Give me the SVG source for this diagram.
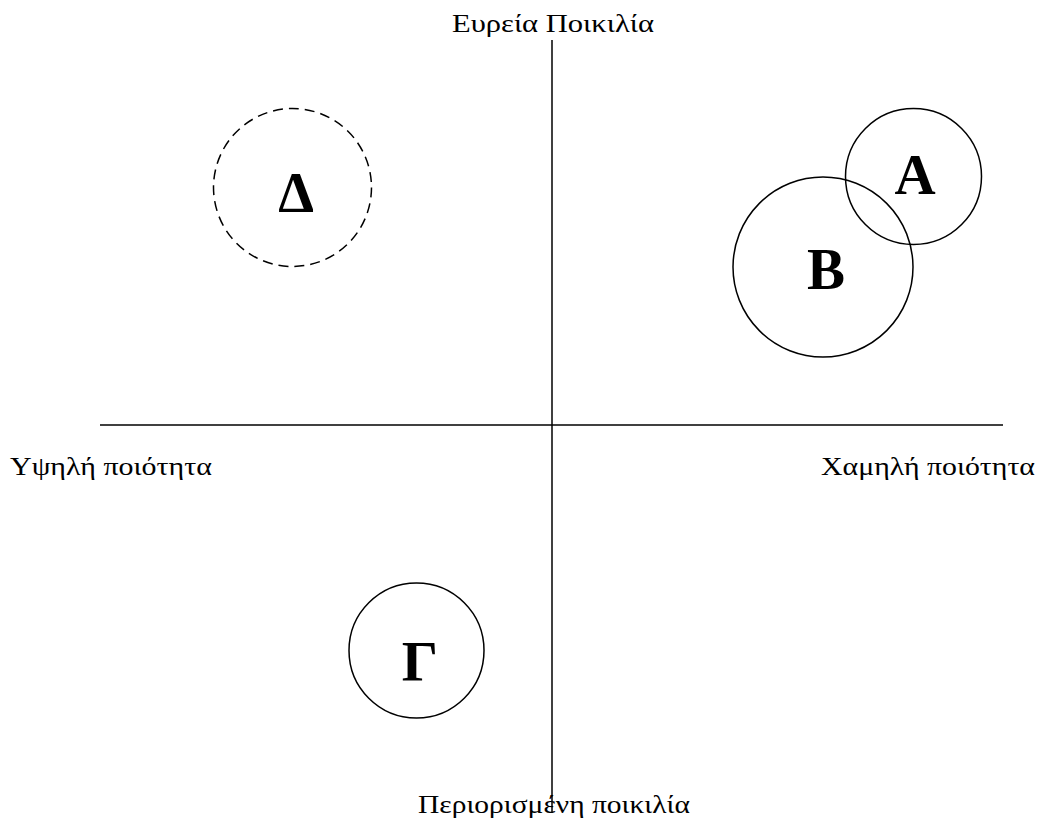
<svg xmlns="http://www.w3.org/2000/svg" width="1041" height="836" viewBox="0 0 1041 836">
<style>
.axis{stroke:#000;stroke-width:1.5;fill:none}
.c{fill:none;stroke:#000;stroke-width:1.5}
.dash{stroke-dasharray:10 6}
.lbl{font-family:"Liberation Serif","Times New Roman",serif;font-size:26px;fill:#000}
.let{font-family:"Liberation Serif","Times New Roman",serif;font-size:57px;font-weight:bold;fill:#000;text-anchor:middle}
</style>
<rect width="1041" height="836" fill="#fff"/>
<g id="axes">
<line class="axis" x1="552" y1="40" x2="552" y2="813"/>
<line class="axis" x1="100" y1="425" x2="1003" y2="425"/>
</g>
<g id="labels">
<text class="lbl" x="553" y="32" text-anchor="middle" textLength="202" lengthAdjust="spacingAndGlyphs">Ευρεία Ποικιλία</text>
<text class="lbl" x="10" y="475" textLength="202" lengthAdjust="spacingAndGlyphs">Υψηλή ποιότητα</text>
<text class="lbl" x="1035" y="475" text-anchor="end" textLength="214" lengthAdjust="spacingAndGlyphs">Χαμηλή ποιότητα</text>
<text class="lbl" x="554" y="813" text-anchor="middle" textLength="272" lengthAdjust="spacingAndGlyphs">Περιορισμένη ποικιλία</text>
</g>
<g id="node-delta">
<circle class="c dash" cx="292.5" cy="187.5" r="79"/>
<text class="let" x="296" y="212">Δ</text>
</g>
<g id="node-b">
<circle class="c" cx="823" cy="267" r="90"/>
<text class="let" x="826" y="288">Β</text>
</g>
<g id="node-a">
<circle class="c" cx="913.5" cy="176.5" r="68"/>
<text class="let" x="915" y="194">Α</text>
</g>
<g id="node-gamma">
<circle class="c" cx="416.5" cy="650.5" r="67.5"/>
<text class="let" x="420" y="681">Γ</text>
</g>
</svg>
